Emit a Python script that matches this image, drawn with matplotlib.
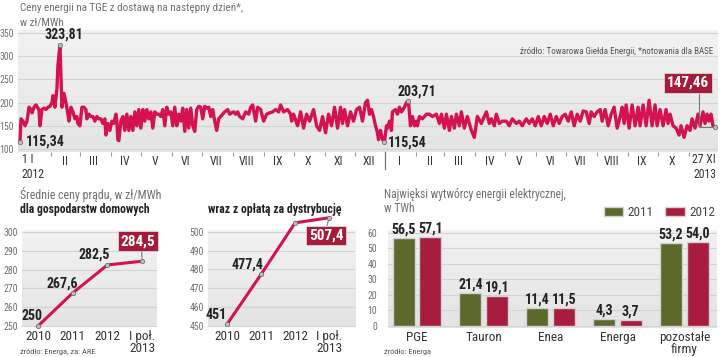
import numpy as np
import pandas as pd
import matplotlib
matplotlib.use("Agg")
import matplotlib.pyplot as plt
from matplotlib import font_manager
from matplotlib.colors import LinearSegmentedColormap

# ---- data ---------------------------------------------------------------
tge_start = "2012-01-01"
tge_day = [
    0, 1, 3, 5, 7, 9, 11, 12, 14, 16, 18, 19, 20, 22, 24, 26, 28, 30, 32, 33,
    35, 37, 38, 40, 41, 42, 44, 46, 48, 49, 51, 53, 55, 57, 58, 60, 62, 64, 66, 67,
    69, 71, 73, 75, 77, 79, 81, 83, 85, 86, 88, 90, 92, 94, 96, 97, 98, 99, 101, 103,
    105, 107, 109, 111, 113, 115, 117, 119, 121, 123, 125, 127, 129, 131, 133, 135, 137, 139, 141, 143,
    145, 147, 149, 151, 153, 155, 157, 159, 161, 163, 165, 167, 169, 171, 173, 175, 177, 179, 181, 183,
    185, 187, 189, 191, 193, 195, 197, 199, 201, 203, 205, 208, 210, 212, 214, 216, 218, 220, 223, 226,
    229, 231, 233, 236, 238, 241, 244, 247, 250, 253, 256, 259, 261, 264, 268, 271, 272, 274, 278, 281,
    284, 287, 290, 294, 297, 300, 303, 306, 309, 312, 315, 318, 321, 323, 325, 328, 331, 334, 337, 340,
    343, 346, 348, 350, 352, 354, 356, 358, 359, 361, 363, 365, 367, 368, 370, 372, 373, 376, 378, 380,
    382, 385, 387, 389, 391, 393, 395, 397, 398, 400, 403, 407, 410, 413, 417, 420, 422, 425, 427, 430,
    432, 435, 437, 440, 442, 445, 448, 452, 455, 458, 462, 465, 467, 470, 472, 475, 477, 480, 483, 487,
    490, 493, 497, 500, 503, 507, 510, 513, 516, 519, 522, 525, 528, 531, 534, 537, 540, 543, 546, 549,
    552, 555, 558, 561, 564, 567, 570, 572, 575, 578, 581, 583, 586, 589, 592, 595, 598, 601, 603, 605,
    607, 610, 613, 616, 619, 621, 624, 627, 630, 633, 636, 638, 641, 644, 647, 649, 651, 654, 657, 660,
    662, 665, 668, 671, 673, 676, 679, 681, 684, 686, 688, 690, 692, 694, 696,
]
tge_price = [
    115.34, 165, 160, 150, 160, 190, 185, 178, 190, 195, 188, 185, 150, 185, 188, 185, 190, 192, 200, 215,
    190, 230, 280, 323.81, 260, 190, 220, 200, 175, 160, 190, 180, 165, 170, 155, 150, 190, 190, 185, 165,
    175, 170, 170, 160, 170, 165, 165, 155, 165, 130, 155, 140, 160, 155, 175, 160, 120, 118, 160, 170,
    140, 175, 140, 170, 140, 180, 150, 185, 145, 185, 160, 185, 165, 180, 145, 180, 175, 175, 170, 185,
    150, 190, 175, 180, 150, 190, 150, 175, 160, 188, 138, 185, 145, 188, 150, 138, 185, 192, 190, 165,
    192, 188, 190, 170, 185, 160, 140, 165, 170, 175, 180, 185, 175, 178, 180, 175, 180, 170, 165, 180,
    175, 190, 195, 160, 190, 185, 160, 175, 178, 180, 185, 180, 195, 180, 185, 175, 160, 175, 150, 180,
    145, 175, 160, 185, 150, 140, 170, 135, 175, 150, 190, 145, 190, 155, 185, 150, 180, 160, 185, 190,
    160, 200, 205, 175, 185, 170, 150, 135, 120, 140, 120, 115.54, 150, 145, 160, 140, 180, 185, 175, 190,
    180, 190, 200, 203.71, 150, 170, 150, 160, 150, 170, 165, 175, 175, 170, 175, 155, 175, 145, 175, 140,
    170, 145, 175, 150, 180, 145, 170, 140, 125, 170, 155, 170, 180, 155, 165, 150, 175, 155, 160, 160,
    150, 165, 155, 160, 150, 165, 155, 165, 150, 170, 150, 170, 155, 175, 150, 170, 155, 170, 175, 160,
    180, 150, 175, 160, 182, 180, 155, 180, 170, 180, 185, 160, 185, 150, 175, 190, 145, 170, 190, 155,
    195, 145, 195, 150, 190, 150, 195, 150, 205, 150, 195, 150, 185, 150, 185, 155, 175, 150, 145, 130,
    150, 125, 150, 140, 165, 145, 175, 150, 180, 155, 175, 160, 175, 150, 147.46,
]
tge_notes = [115.34, 323.81, 115.54, 203.71]
tge_month_labels = ["II", "III", "IV", "V", "VI", "VII", "VIII", "IX", "X", "XI", "XII",
                    "I", "II", "III", "IV", "V", "VI", "VII", "VIII", "IX", "X"]

price_years = ["2010", "2011", "2012", "I poł.\n2013"]
household_price = [250, 267.6, 282.5, 284.5]
household_with_dist = [451, 477.4, 504.7, 507.4]

producers = ["PGE", "Tauron", "Enea", "Energa", "pozostałe\nfirmy"]
output_2011 = [56.5, 21.4, 11.4, 4.3, 53.2]
output_2012 = [57.1, 19.1, 11.5, 3.7, 54.0]

# ---- style ---------------------------------------------------------------
W, H = 720, 357
PT = 0.72  # one pixel in points at 100 dpi
LINE = "#d3124f"
BOX_RED = "#a51c3a"
BAR_RED = "#a81d3d"
GREEN = "#5b6a2c"
GRID = "#d3d3d3"
GRAY_TXT = "#6f6f6f"
DARK_TXT = "#222222"
PANEL_CMAP = LinearSegmentedColormap.from_list("panel", ["#e4e4e4", "#f2f2f2"])

names = set(font_manager.get_font_names())
FONT = "DejaVu Sans"
for f in ["Roboto Condensed", "Liberation Sans Narrow", "Open Sans Condensed", "Roboto"]:
    if f in names:
        FONT = f
        break
plt.rcParams["font.family"] = [FONT, "DejaVu Sans"]


def px_axes(fig, x0, y0, x1, y1):
    return fig.add_axes([x0 / W, 1 - y1 / H, (x1 - x0) / W, (y1 - y0) / H])


def px_text(fig, x, y, s, **kw):
    return fig.text(x / W, 1 - y / H, s, **kw)


def comma(v, dec=1):
    return f"{v:.{dec}f}".replace(".", ",")


def panel(ax, grid_ticks):
    # light grey panel, slightly darker towards the bottom
    ax.set_facecolor("#ebebeb")
    ax.imshow(np.linspace(0, 1, 64).reshape(-1, 1), cmap=PANEL_CMAP, origin="lower",
              extent=(0, 1, 0, 1), transform=ax.transAxes, aspect="auto", zorder=0)
    for s in ax.spines.values():
        s.set_visible(False)
    ax.set_yticks(grid_ticks)
    ax.grid(axis="y", color=GRID, lw=0.8)
    ax.set_axisbelow(True)
    ax.tick_params(axis="y", length=0, labelsize=7, labelcolor=GRAY_TXT, pad=3)


def red_box(ax, x, y, text, dx, dy, rel=(0.5, 0.5), conn="arc3"):
    ax.annotate(text, xy=(x, y), xytext=(dx * PT, dy * PT), textcoords="offset points",
                ha="center", va="center", color="white", fontsize=11, fontweight="bold",
                bbox=dict(boxstyle="square,pad=0.18", fc=BOX_RED, ec="#d9d9d9", lw=0.6),
                arrowprops=dict(arrowstyle="-", color="#777777", lw=0.8, relpos=rel,
                                connectionstyle=conn, shrinkA=0, shrinkB=2),
                annotation_clip=False, zorder=6)


def tight_ticklabels(ax):
    for t in ax.get_xticklabels():
        t.set_linespacing(0.95)


fig = plt.figure(figsize=(W / 100, H / 100), dpi=100)

# ---- top: daily TGE prices ------------------------------------------------
px_text(fig, 20, 8, "Ceny energii na TGE z dostawą na następny dzień*,", fontsize=8,
        color=GRAY_TXT, va="center")
px_text(fig, 20, 22, "w zł/MWh", fontsize=8, color=GRAY_TXT, va="center")

ax = px_axes(fig, 18, 30, 718, 152)
t0 = pd.Timestamp(tge_start)
dates = t0 + pd.to_timedelta(tge_day, unit="D")
ax.plot(dates, tge_price, color=LINE, lw=2.4, solid_joinstyle="round", zorder=3)
panel(ax, [100, 150, 200, 250, 300, 350])
ax.set_xlim(t0 - pd.Timedelta(days=2), t0 + pd.Timedelta(days=699))
ax.set_ylim(93.5, 356.5)

month_starts = pd.date_range("2012-02-01", "2013-11-01", freq="MS")
ax.set_xticks(month_starts)
ax.set_xticklabels([])
ax.tick_params(axis="x", which="major", length=3, width=0.8, color="#999999", direction="out")
ax.set_xticks(pd.date_range("2012-02-01", "2013-10-01", freq="MS") + pd.Timedelta(days=14),
              minor=True)
ax.set_xticklabels(tge_month_labels, minor=True)
ax.tick_params(axis="x", which="minor", length=0, labelsize=8.5, labelcolor="#333333", pad=2)

ax.annotate("1 I\n2012", xy=(dates[0], 0), xycoords=("data", "axes fraction"),
            xytext=(2 * PT, -1 * PT), textcoords="offset points", ha="left", va="top",
            fontsize=8.5, color="#333333", linespacing=1.2)
ax.annotate("27 XI\n2013", xy=(dates[-1], 0), xycoords=("data", "axes fraction"),
            xytext=(1 * PT, -1 * PT), textcoords="offset points", ha="right", va="top",
            fontsize=8.5, color="#333333", linespacing=1.2)
ax.plot([pd.Timestamp("2013-01-01")] * 2, [0.0, -0.14], transform=ax.get_xaxis_transform(),
        color="#777777", lw=0.9, clip_on=False)

note_offsets = {115.34: (6, 0, "left", "center"), 323.81: (4, 4, "center", "bottom"),
                115.54: (3, -1, "left", "center"), 203.71: (8, 2, "center", "bottom")}
for v in tge_notes:
    i = tge_price.index(v)
    ax.plot(dates[i], v, "o", ms=3.2, mfc="#bdbdbd", mec="#666666", mew=0.5, zorder=5)
    dx, dy, ha, va = note_offsets[v]
    ax.annotate(comma(v, 2), xy=(dates[i], v), xytext=(dx * PT, dy * PT),
                textcoords="offset points", ha=ha, va=va, fontsize=10,
                fontweight="bold", color=DARK_TXT, zorder=6)
ax.plot(dates[-1], tge_price[-1], "o", ms=3.2, mfc="#bdbdbd", mec="#666666", mew=0.5, zorder=5)
red_box(ax, dates[-1], tge_price[-1], comma(tge_price[-1], 2), -27, 44, rel=(0.75, 0),
        conn="angle,angleA=90,angleB=0,rad=0")
ax.text(0.993, 0.82, "źródło: Towarowa Giełda Energii, *notowania dla BASE",
        transform=ax.transAxes, ha="right", va="center", fontsize=6.5, color="#555555")

# ---- bottom left: average household prices ------------------------------
px_text(fig, 20, 195, "Średnie ceny prądu, w zł/MWh", fontsize=8.6, color=GRAY_TXT, va="center")
px_text(fig, 20, 209, "dla gospodarstw domowych", fontsize=8.5, fontweight="bold",
        color=DARK_TXT, va="center")
px_text(fig, 208, 209, "wraz z opłatą za dystrybucję", fontsize=8.5, fontweight="bold",
        color=DARK_TXT, va="center")


def small_chart(box, values, ylim, ticks, offsets, box_offset, box_rel):
    a = px_axes(fig, *box)
    xs = np.arange(len(values))
    a.plot(xs, values, color=LINE, lw=2.2, clip_on=False, zorder=3)
    a.plot(xs, values, "o", ms=3.2, mfc="#bdbdbd", mec="#666666", mew=0.5, clip_on=False, zorder=4)
    panel(a, ticks)
    a.set_ylim(*ylim)
    a.set_xticks(xs, price_years)
    a.tick_params(axis="x", length=0, labelsize=9.5, labelcolor="#333333", pad=2)
    tight_ticklabels(a)
    for x, v, (dx, dy, ha, va) in zip(xs[:-1], values[:-1], offsets):
        txt = comma(v, 0) if float(v).is_integer() else comma(v)
        a.annotate(txt, xy=(x, v), xytext=(dx * PT, dy * PT), textcoords="offset points",
                   ha=ha, va=va, fontsize=10, fontweight="bold", color=DARK_TXT)
    red_box(a, xs[-1], values[-1], comma(values[-1]), *box_offset, rel=box_rel)
    return a


a1 = small_chart((22, 230, 157, 327), household_price, (249.5, 301.1),
                 [250, 260, 270, 280, 290, 300],
                 [(-6, 3, "center", "bottom"), (-10, 2, "center", "bottom"),
                  (-13, 3, "center", "bottom")], (-4, 20), (0.6, 0))
a1.set_xlim(-0.46, 3.43)
a2 = small_chart((208, 230, 355, 327), household_with_dist, (449.5, 500.9),
                 [450, 460, 470, 480, 490, 500],
                 [(-11, 2, "center", "bottom"), (-14, 3, "center", "bottom"),
                  (-3, 0, "right", "center")], (-3, -18), (0.5, 1))
a2.set_xlim(-0.56, 3.76)
px_text(fig, 20, 352, "źródło: Energa, za: ARE", fontsize=6, color="#555555", va="center")

# ---- bottom right: largest producers -----------------------------------
px_text(fig, 384, 195, "Najwięksi wytwórcy energii elektrycznej,", fontsize=8.3,
        color=GRAY_TXT, va="center")
px_text(fig, 384, 209, "w TWh", fontsize=8.3, color=GRAY_TXT, va="center")

ab = px_axes(fig, 388, 230, 717, 328)
xs = np.arange(len(producers))
b1 = ab.bar(xs - 0.2, output_2011, 0.33, color=GREEN, edgecolor="#d2d2d2", lw=1.0, label="2011")
b2 = ab.bar(xs + 0.2, output_2012, 0.33, color=BAR_RED, edgecolor="#d2d2d2", lw=1.0, label="2012")
panel(ab, [0, 10, 20, 30, 40, 50, 60])
ab.tick_params(axis="y", pad=8)
for bars, vals in ((b1, output_2011), (b2, output_2012)):
    ab.bar_label(bars, labels=[comma(v) for v in vals], padding=1, fontsize=10,
                 fontweight="bold", color=DARK_TXT)
ab.set_xlim(-0.434, 4.49)
ab.set_ylim(-1.3, 61.7)
ab.set_xticks(xs, producers)
ab.tick_params(axis="x", length=0, labelsize=9.5, labelcolor="#333333", pad=2)
tight_ticklabels(ab)
ab.legend(handles=[b1, b2], loc="lower right", bbox_to_anchor=(1.01, 1.06), ncol=2,
          frameon=False, fontsize=9.5, handlelength=1.5, handleheight=0.7, columnspacing=0.9,
          handletextpad=0.3, borderaxespad=0, labelcolor="#444444")
px_text(fig, 384, 352, "źródło: Energa", fontsize=6, color="#555555", va="center")

fig.savefig("out.png", dpi=100)
